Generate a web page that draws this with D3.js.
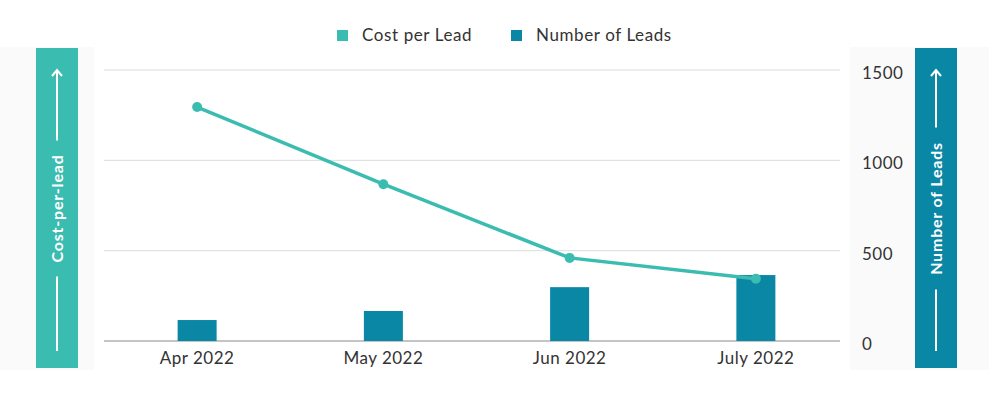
<!DOCTYPE html>
<html>
<head>
  <title>Cost per Lead vs Number of Leads</title>
  <style>
    body {
      margin: 0;
      padding: 0;
      background-color: #fff;
      font-family: Lato, "Open Sans", sans-serif;
    }
  </style>
</head>
<body>
  <div id="chart"></div>

  <script src="https://d3js.org/d3.v7.min.js"></script>
  <script>
    var months = ["Apr 2022", "May 2022", "Jun 2022", "July 2022"];
    var costPerLead = [1295, 868, 460, 345];
    var numberOfLeads = [116, 166, 298, 365];
    var yTicks = [0, 500, 1000, 1500];

    var width = 989, height = 395;
    var lineColor = "#3bbcb0", barColor = "#0a87a5";

    var svg = d3.select("#chart")
      .append("svg")
      .attr("width", width)
      .attr("height", height);

    // light side panels
    svg.append("rect").attr("x", 0).attr("y", 47).attr("width", 94).attr("height", 323).attr("fill", "#fafafa");
    svg.append("rect").attr("x", 850).attr("y", 47).attr("width", 139).attr("height", 323).attr("fill", "#fafafa");

    var x = d3.scalePoint()
      .domain(months)
      .range([104, 849])
      .padding(0.5);

    var y = d3.scaleLinear()
      .domain([0, 1500])
      .range([341, 70]);

    // gridlines
    svg.append("g")
      .selectAll("line")
      .data(yTicks)
      .enter()
      .append("line")
      .attr("x1", 104)
      .attr("x2", 840)
      .attr("y1", function (d) { return y(d); })
      .attr("y2", function (d) { return y(d); })
      .attr("stroke", function (d) { return d === 0 ? "#8a8a8a" : "#dcdcdc"; })
      .attr("stroke-width", 1);

    // right axis labels
    svg.append("g")
      .selectAll("text")
      .data(yTicks)
      .enter()
      .append("text")
      .attr("x", 862)
      .attr("y", function (d) { return y(d) + 9; })
      .attr("font-size", 17)
      .attr("letter-spacing", 0.5)
      .attr("fill", "#333")
      .text(function (d) { return d; });

    // x axis labels
    svg.append("g")
      .selectAll("text")
      .data(months)
      .enter()
      .append("text")
      .attr("x", function (d) { return x(d); })
      .attr("y", 364)
      .attr("text-anchor", "middle")
      .attr("font-size", 17)
      .attr("letter-spacing", 0.5)
      .attr("fill", "#333")
      .text(function (d) { return d; });

    // bars
    var barWidth = 39;
    svg.append("g")
      .selectAll("rect")
      .data(numberOfLeads)
      .enter()
      .append("rect")
      .attr("x", function (d, i) { return x(months[i]) - barWidth / 2; })
      .attr("y", function (d) { return y(d); })
      .attr("width", barWidth)
      .attr("height", function (d) { return y(0) - y(d); })
      .attr("fill", barColor);

    // line
    var line = d3.line()
      .x(function (d, i) { return x(months[i]); })
      .y(function (d) { return y(d); });

    svg.append("path")
      .datum(costPerLead)
      .attr("d", line)
      .attr("fill", "none")
      .attr("stroke", lineColor)
      .attr("stroke-width", 3.5);

    svg.append("g")
      .selectAll("circle")
      .data(costPerLead)
      .enter()
      .append("circle")
      .attr("cx", function (d, i) { return x(months[i]); })
      .attr("cy", function (d) { return y(d); })
      .attr("r", 5)
      .attr("fill", lineColor);

    // legend
    var legend = [
      { name: "Cost per Lead", color: lineColor, x: 337 },
      { name: "Number of Leads", color: barColor, x: 511 }
    ];
    legend.forEach(function (l) {
      svg.append("rect").attr("x", l.x).attr("y", 30).attr("width", 11).attr("height", 11).attr("fill", l.color);
      svg.append("text").attr("x", l.x + 25).attr("y", 41).attr("font-size", 17)
        .attr("letter-spacing", 0.6).attr("fill", "#333").text(l.name);
    });

    // vertical axis title boxes
    function sideLabel(cx, color, label, textHalf) {
      var top = 48, bottom = 368, mid = 208.5;
      svg.append("rect").attr("x", cx - 21).attr("y", top).attr("width", 42).attr("height", bottom - top).attr("fill", color);
      svg.append("text")
        .attr("transform", "translate(" + (cx + 6) + "," + mid + ") rotate(-90)")
        .attr("text-anchor", "middle")
        .attr("font-size", 16)
        .attr("font-weight", "bold")
        .attr("letter-spacing", 0.8)
        .attr("fill", "#fff")
        .text(label);
      svg.append("line").attr("x1", cx).attr("x2", cx).attr("y1", bottom - 17).attr("y2", mid + textHalf + 8)
        .attr("stroke", "#fff").attr("stroke-width", 2);
      svg.append("line").attr("x1", cx).attr("x2", cx).attr("y1", mid - textHalf - 8).attr("y2", top + 22)
        .attr("stroke", "#fff").attr("stroke-width", 2);
      svg.append("path")
        .attr("d", "M" + (cx - 5) + "," + (top + 28) + "L" + cx + "," + (top + 22) + "L" + (cx + 5) + "," + (top + 28))
        .attr("fill", "none").attr("stroke", "#fff").attr("stroke-width", 2);
    }
    sideLabel(57, lineColor, "Cost-per-lead", 60);
    sideLabel(936, barColor, "Number of Leads", 73);
  </script>
</body>
</html>
